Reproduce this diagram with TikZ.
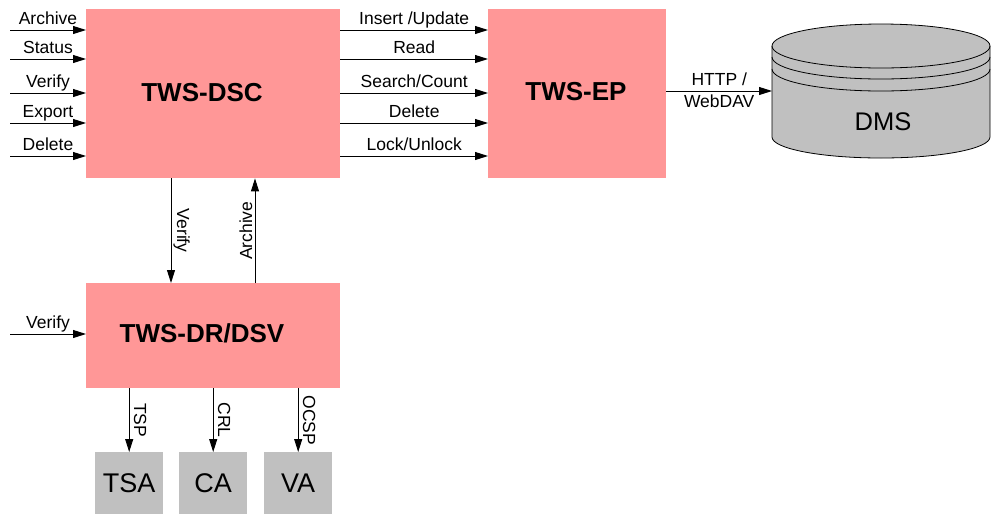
\documentclass[tikz,border=0pt]{standalone}
\usepackage{fontspec}
\setmainfont{Liberation Sans}
\usetikzlibrary{arrows.meta}
\definecolor{boxpink}{HTML}{FF9797}
\definecolor{boxgrey}{HTML}{C0C0C0}
\tikzset{
  pinkbox/.style={fill=boxpink, draw=none, inner sep=0pt, anchor=north west},
  greybox/.style={fill=boxgrey, draw=none, inner sep=0pt, anchor=north west,
    minimum width=68pt, minimum height=62pt, font=\fontsize{27}{30}\selectfont},
  title/.style={font=\fontsize{26}{30}\selectfont\bfseries, inner sep=0pt},
  arr/.style={draw=black, line width=0.9pt, -{Triangle[length=13pt,width=8pt]}},
  lab/.style={font=\fontsize{17.5}{21}\selectfont, inner sep=0pt, anchor=base, yshift=6pt},
  labbelow/.style={font=\fontsize{17.5}{21}\selectfont, inner sep=0pt, anchor=base, yshift=-16pt},
  vlabR/.style={font=\fontsize{17.5}{21}\selectfont, inner sep=0pt, anchor=base, rotate=-90, yshift=6pt},
  vlabL/.style={font=\fontsize{17.5}{21}\selectfont, inner sep=0pt, anchor=base, rotate=90, yshift=3pt},
}
\begin{document}
\begin{tikzpicture}[x=1pt,y=1pt]
\useasboundingbox (0,0) rectangle (993,-515);

% boxes
\node[pinkbox, minimum width=254pt, minimum height=169pt] (dsc) at (86,-9) {};
\node[pinkbox, minimum width=178pt, minimum height=169pt] (ep) at (488,-9) {};
\node[pinkbox, minimum width=254pt, minimum height=105pt] (dr) at (86,-283) {};
\node[title] (dsct) at (202,-93) {TWS-DSC};
\node[title] (ept) at (576,-92) {TWS-EP};
\node[title] (drt) at (202,-333) {TWS-DR/DSV};

\node[greybox] (tsa) at (95,-452) {TSA};
\node[greybox] (ca) at (179,-452) {CA};
\node[greybox] (va) at (264,-452) {VA};

% DMS cylinder
\filldraw[fill=boxgrey, draw=black, line width=0.8pt]
  (772,-46) -- (772,-137) arc[start angle=180, end angle=360, x radius=109pt, y radius=21pt]
  -- (990,-46) arc[start angle=0, end angle=180, x radius=109pt, y radius=22pt] -- cycle;
\draw[line width=0.8pt] (772,-46) arc[start angle=180, end angle=360, x radius=109pt, y radius=22pt];
\draw[line width=0.8pt] (772,-57) arc[start angle=180, end angle=360, x radius=109pt, y radius=22pt];
\draw[line width=0.8pt] (772,-69) arc[start angle=180, end angle=360, x radius=109pt, y radius=22pt];
\node[font=\fontsize{25.5}{30}\selectfont, inner sep=0pt] (dms) at (883,-122) {DMS};
\coordinate (dmsin) at (772,-91);

% level coordinates
\coordinate (y1) at (0,-30);
\coordinate (y2) at (0,-59);
\coordinate (y3) at (0,-93);
\coordinate (y4) at (0,-123);
\coordinate (y5) at (0,-156);
\coordinate (l1) at (10,-30);
\coordinate (l2) at (10,-59);
\coordinate (l3) at (10,-93);
\coordinate (l4) at (10,-123);
\coordinate (l5) at (10,-156);
\coordinate (l6) at (10,-334);

% inputs to DSC
\draw[arr] (l1) -- node[lab] {Archive} (dsc.west |- l1);
\draw[arr] (l2) -- node[lab] {Status} (dsc.west |- l2);
\draw[arr] (l3) -- node[lab] {Verify} (dsc.west |- l3);
\draw[arr] (l4) -- node[lab] {Export} (dsc.west |- l4);
\draw[arr] (l5) -- node[lab] {Delete} (dsc.west |- l5);
\draw[arr] (l6) -- node[lab] {Verify} (dr.west |- l6);

% DSC to EP
\draw[arr] (dsc.east |- y1) -- node[lab] {Insert /Update} (ep.west |- y1);
\draw[arr] (dsc.east |- y2) -- node[lab] {Read} (ep.west |- y2);
\draw[arr] (dsc.east |- y3) -- node[lab] {Search/Count} (ep.west |- y3);
\draw[arr] (dsc.east |- y4) -- node[lab] {Delete} (ep.west |- y4);
\draw[arr] (dsc.east |- y5) -- node[lab] {Lock/Unlock} (ep.west |- y5);

% EP to DMS
\draw[arr] (ep.east |- dmsin) -- node[lab] {HTTP /} node[labbelow] {WebDAV} (dmsin);

% DSC <-> DR
\coordinate (vx1) at (171,0);
\coordinate (vx2) at (255,0);
\draw[arr] (dsc.south -| vx1) -- node[vlabR] {Verify} (dr.north -| vx1);
\draw[arr] (dr.north -| vx2) -- node[vlabL] {Archive} (dsc.south -| vx2);

% DR to services
\draw[arr] (dr.south -| tsa.north) -- node[vlabR, yshift=-1pt] {TSP} (tsa.north);
\draw[arr] (dr.south -| ca.north) -- node[vlabR, yshift=-1pt] {CRL} (ca.north);
\draw[arr] (dr.south -| va.north) -- node[vlabR, yshift=-1pt] {OCSP} (va.north);
\end{tikzpicture}
\end{document}
